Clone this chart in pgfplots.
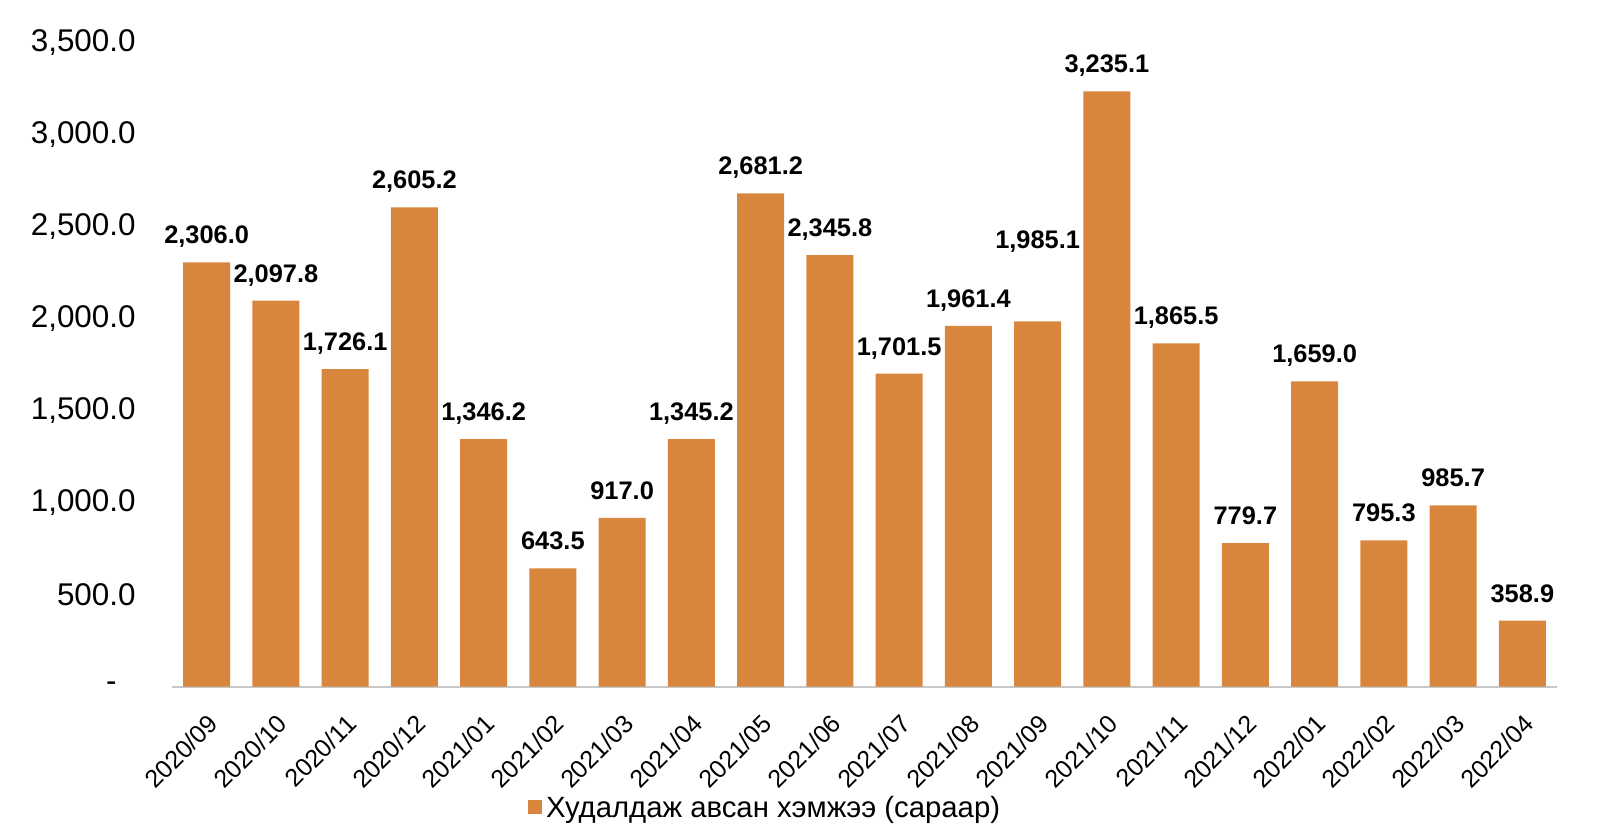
\documentclass[border=0pt]{standalone}
\usepackage{pgfplots}
\pgfplotsset{compat=1.18}
\usepackage{pgfplotstable}
\usepackage{fontspec}
\setmainfont{Liberation Sans}
\definecolor{barorange}{RGB}{216,134,62}
\definecolor{axisgray}{RGB}{200,200,200}
\pgfplotstableread{
x y lbl dy
0 2306.0 2,306.0 9.3
1 2097.8 2,097.8 9.3
2 1726.1 1,726.1 9.3
3 2605.2 2,605.2 9.3
4 1346.2 1,346.2 9.3
5 643.5 643.5 9.3
6 917.0 917.0 9.3
7 1345.2 1,345.2 9.3
8 2681.2 2,681.2 9.3
9 2345.8 2,345.8 9.3
10 1701.5 1,701.5 9.3
11 1961.4 1,961.4 9.3
12 1985.1 1,985.1 36.5
13 3235.1 3,235.1 9.3
14 1865.5 1,865.5 9.3
15 779.7 779.7 9.3
16 1659.0 1,659.0 9.3
17 795.3 795.3 9.3
18 985.7 985.7 9.3
19 358.9 358.9 9.3
}\datatable
\begin{document}
\begin{tikzpicture}
\useasboundingbox (0,0) rectangle (800pt,418pt);
\begin{axis}[
  at={(86pt,74.65pt)}, anchor=south west,
  scale only axis, width=692.5pt, height=322pt,
  xmin=-0.5, xmax=19.5, ymin=0, ymax=3500,
  ybar, bar width=23.5pt, bar shift=0pt,
  axis x line*=bottom, axis y line*=left,
  x axis line style={-, draw=axisgray, line width=1pt},
  y axis line style={draw=none},
  major tick length=0pt,
  xtick=data,
  xticklabels={2020/09,2020/10,2020/11,2020/12,2021/01,2021/02,2021/03,2021/04,2021/05,2021/06,2021/07,2021/08,2021/09,2021/10,2021/11,2021/12,2022/01,2022/02,2022/03,2022/04},
  xticklabel style={xshift=0pt, yshift=-13pt, rotate=45, anchor=north east, inner sep=0pt, font=\fontsize{12.5}{14}\selectfont},
  ytick={0,500,1000,1500,2000,2500,3000,3500},
  yticklabels={{-\rule{9.5pt}{0pt}},{500.0},{1,000.0},{1,500.0},{2,000.0},{2,500.0},{3,000.0},{3,500.0}},
  yticklabel style={anchor=east, inner sep=0pt, font=\fontsize{15.7}{18}\selectfont, xshift=-18pt},
  legend style={at={(0.429,-0.1885)}, anchor=center, draw=none, font=\fontsize{14.65}{18}\selectfont, inner sep=0pt},
  legend image code/.code={\fill[barorange] (0pt,-3pt) rectangle (7pt,4pt);},
]
\addplot[fill=barorange, draw=none,
  point meta=explicit symbolic,
  visualization depends on={\thisrow{dy} \as \dy},
  nodes near coords,
  nodes near coords style={font=\bfseries\fontsize{12.7}{14}\selectfont, anchor=base, inner sep=0pt, yshift=\dy pt, text=black},
] table[x=x, y=y, meta=lbl] {\datatable};
\addlegendentry{Худалдаж авсан хэмжээ (сараар)}
\end{axis}
\end{tikzpicture}
\end{document}
